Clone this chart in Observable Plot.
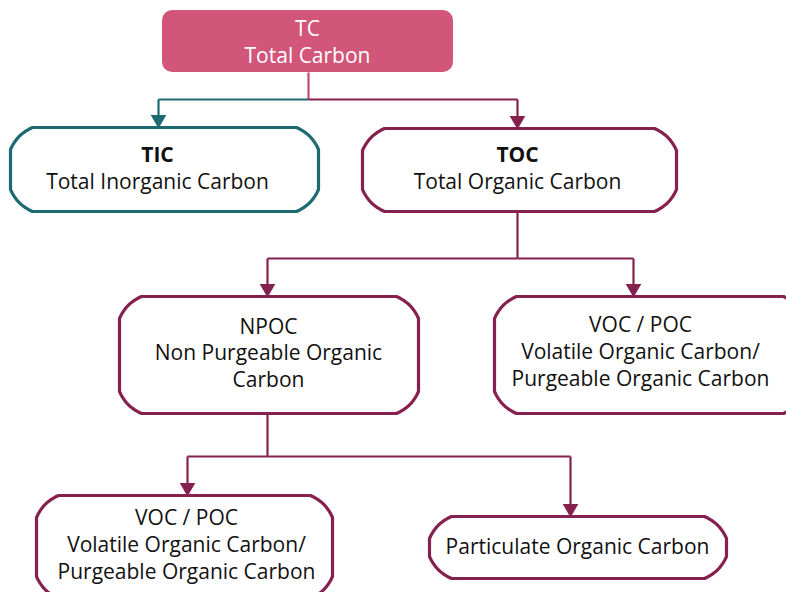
<!DOCTYPE html>
<html>
<head>
<meta charset="utf-8">
<script src="https://cdn.jsdelivr.net/npm/d3@7"></script>
<script src="https://cdn.jsdelivr.net/npm/@observablehq/plot@0.6"></script>
<style>
  html, body { margin: 0; padding: 0; background: #ffffff; }
  #chart svg { display: block; overflow: hidden; }
</style>
</head>
<body>
<div id="chart"></div>
<script>
// ---- Data: nodes and their labels ----
const nodeIds    = ["TC", "TIC", "TOC", "NPOC", "VOC_A", "VOC_B", "PartOC"];
const nodeTitles = ["TC", "TIC", "TOC", "NPOC", "VOC / POC", "VOC / POC", null];
const nodeNames  = [
  ["Total Carbon"],
  ["Total Inorganic Carbon"],
  ["Total Organic Carbon"],
  ["Non Purgeable Organic", "Carbon"],
  ["Volatile Organic Carbon/", "Purgeable Organic Carbon"],
  ["Volatile Organic Carbon/", "Purgeable Organic Carbon"],
  ["Particulate Organic Carbon"]
];
const boldTitles = ["TIC", "TOC"];

// ---- Data: edges (parent -> child) ----
const edgeFrom = ["TC", "TC", "TOC", "TOC", "NPOC", "NPOC"];
const edgeTo   = ["TIC", "TOC", "NPOC", "VOC_A", "VOC_B", "PartOC"];

// ---- Layout (pixel coordinates of the diagram) ----
const boxX1 = [162, 10, 362, 119, 494, 36, 429];
const boxX2 = [453, 318, 676, 418, 805, 332, 726];
const boxY1 = [10, 127, 128, 296, 296, 495, 516];
const boxY2 = [72, 211, 211, 413, 413, 598, 578];
const textCY = [42, 168, 168, 353, 352, 545, 547];
const textCX = [307, 157, 517, 268, 640, 186, 577];
const lineGap = [27, 27, 27, 26.5, 27, 27, 27];
const arrowX = {TIC: 158, TOC: 517, NPOC: 267, VOC_A: 633, VOC_B: 187, PartOC: 570};
const trunkX = {TC: 308, TOC: 517, NPOC: 267};
const junctionY = {TC: 99, TOC: 258, NPOC: 456};

// ---- Styles ----
const teal = "#1d6a72", purple = "#86214f", pink = "#d2557a", trunkPink = "#c24b72";
const nodeStroke = {TC: pink, TIC: teal};
const strokeOf = id => nodeStroke[id] || purple;
const edgeColor = (from, to) => to === "TIC" ? teal : purple;

const idx = Object.fromEntries(nodeIds.map((d, i) => [d, i]));

// Octagonal (chamfered, slightly rounded) outlines
const chamfer = 22;
function outline(i) {
  const x1 = boxX1[i], x2 = boxX2[i], y1 = boxY1[i], y2 = boxY2[i], c = chamfer;
  const corners = [
    [[x1, y1 + c], [x1, y1], [x1 + c, y1]],
    [[x2 - c, y1], [x2, y1], [x2, y1 + c]],
    [[x2, y2 - c], [x2, y2], [x2 - c, y2]],
    [[x1 + c, y2], [x1, y2], [x1, y2 - c]]
  ];
  const pts = [];
  for (const [a, k, b] of corners) {
    const m = [(a[0] + b[0]) / 2, (a[1] + b[1]) / 2];
    const w = 0.4;
    const ctrl = [k[0] * w + m[0] * (1 - w), k[1] * w + m[1] * (1 - w)];
    for (let s = 0; s <= 8; s++) {
      const t = s / 8;
      const x = (1 - t) * (1 - t) * a[0] + 2 * (1 - t) * t * ctrl[0] + t * t * b[0];
      const y = (1 - t) * (1 - t) * a[1] + 2 * (1 - t) * t * ctrl[1] + t * t * b[1];
      pts.push({id: nodeIds[i], x, y, stroke: strokeOf(nodeIds[i])});
    }
  }
  return pts;
}
const outlinePts = nodeIds.slice(1).flatMap((d, j) => outline(j + 1));

// Text lines
const textLines = [];
nodeIds.forEach((id, i) => {
  const lines = (nodeTitles[i] ? [nodeTitles[i]] : []).concat(nodeNames[i]);
  const n = lines.length;
  lines.forEach((t, k) => {
    textLines.push({
      id, text: t,
      x: textCX[i],
      y: textCY[i] + (k - (n - 1) / 2) * lineGap[i],
      bold: k === 0 && boldTitles.includes(id),
      white: id === "TC"
    });
  });
});

// Connectors
const segs = [];
for (const p of Object.keys(trunkX)) {
  const i = idx[p];
  segs.push({x1: trunkX[p], y1: boxY2[i], x2: trunkX[p], y2: junctionY[p], color: p === "TC" ? trunkPink : purple});
}
const heads = [];
edgeFrom.forEach((p, e) => {
  const c = edgeTo[e], ci = idx[c], col = edgeColor(p, c);
  segs.push({x1: trunkX[p], y1: junctionY[p], x2: arrowX[c], y2: junctionY[p], color: col});
  segs.push({x1: arrowX[c], y1: junctionY[p], x2: arrowX[c], y2: boxY1[ci] - 6, color: col});
  heads.push({x: arrowX[c], y: boxY1[ci] - 8, color: col});
});

const W = 786, H = 592;
const chart = Plot.plot({
  width: W, height: H,
  margin: 0,
  x: {domain: [0, W], range: [0, W], axis: null},
  y: {domain: [0, H], range: [0, H], axis: null},
  color: {type: "identity"},
  style: {fontFamily: "'Open Sans', 'Noto Sans', sans-serif", background: "#ffffff"},
  marks: [
    // root box (filled)
    Plot.rect([0], {
      x1: () => boxX1[0], x2: () => boxX2[0], y1: () => boxY1[0], y2: () => boxY2[0],
      fill: pink, rx: 10
    }),
    // connectors
    Plot.link(segs, {x1: "x1", y1: "y1", x2: "x2", y2: "y2", stroke: "color", strokeWidth: 2.2, clip: true}),
    Plot.dot(heads, {x: "x", y: "y", fill: "color", stroke: null, symbol: "triangle", r: 5.8, rotate: 180}),
    // outlined boxes
    Plot.line(outlinePts, {x: "x", y: "y", z: "id", stroke: "stroke", fill: "white", strokeWidth: 3.2, curve: "linear-closed", clip: true}),
    // labels
    Plot.text(textLines.filter(d => d.white), {x: "x", y: "y", text: "text", fill: "white", fontSize: 21, letterSpacing: 1.3}),
    Plot.text(textLines.filter(d => !d.white && d.bold), {x: "x", y: "y", text: "text", fill: "#111", fontSize: 21, fontWeight: "bold"}),
    Plot.text(textLines.filter(d => !d.white && !d.bold), {x: "x", y: "y", text: "text", fill: "#111", fontSize: 21})
  ]
});
document.getElementById("chart").appendChild(chart);
</script>
</body>
</html>
